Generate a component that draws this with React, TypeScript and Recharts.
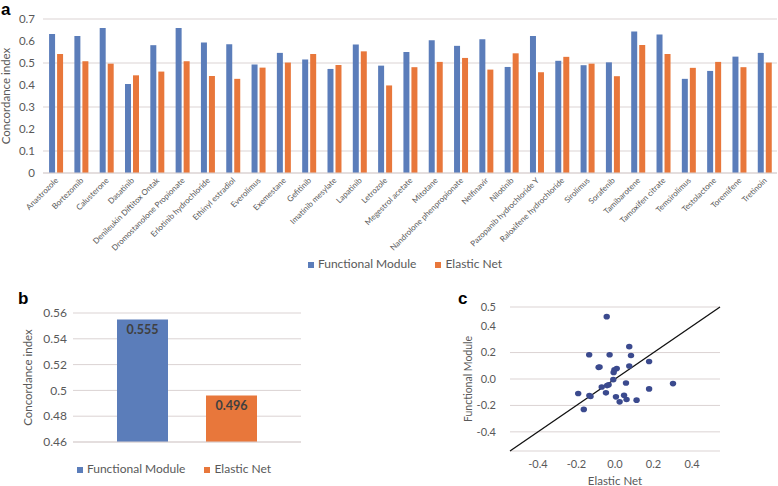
import { BarChart, Bar, XAxis, YAxis, CartesianGrid, Legend, LabelList, ScatterChart, Scatter, ReferenceLine, Label } from 'recharts';

// panel a: per-drug concordance index
const drugs = [
  'Anastrozole', 'Bortezomib', 'Calusterone', 'Dasatinib', 'Denileukin Diftitox Ontak',
  'Dromostanolone Propionate', 'Erlotinib hydrochloride', 'Ethinyl estradiol', 'Everolimus',
  'Exemestane', 'Gefitinib', 'Imatinib mesylate', 'Lapatinib', 'Letrozole', 'Megestrol acetate',
  'Mitotane', 'Nandrolone phenpropionate', 'Nelfinavir', 'Nilotinib', 'Pazopanib hydrochloride Y',
  'Raloxifene hydrochloride', 'Sirolimus', 'Sorafenib', 'Tamibarotene', 'Tamoxifen citrate',
  'Temsirolimus', 'Testolactone', 'Toremifene', 'Tretinoin',
];
const functionalModule = [
  0.632, 0.623, 0.659, 0.404, 0.581, 0.659, 0.593, 0.585, 0.493, 0.546, 0.516, 0.473, 0.584, 0.488,
  0.55, 0.603, 0.578, 0.608, 0.482, 0.623, 0.51, 0.49, 0.503, 0.643, 0.629, 0.428, 0.464, 0.529, 0.546,
];
const elasticNet = [
  0.541, 0.508, 0.497, 0.444, 0.461, 0.508, 0.441, 0.428, 0.479, 0.502, 0.541, 0.491, 0.553, 0.398,
  0.481, 0.505, 0.523, 0.47, 0.544, 0.458, 0.528, 0.497, 0.44, 0.582, 0.541, 0.478, 0.505, 0.481, 0.502,
];
const yTicksA = [0, 0.1, 0.2, 0.3, 0.4, 0.5, 0.6, 0.7];

// panel b: averages
const summaryValues = [0.555, 0.496];
const yTicksB = [0.46, 0.48, 0.5, 0.52, 0.54, 0.56];

// panel c: Elastic Net vs Functional Module
const scatterX = [
  -0.043, 0.074, -0.134, -0.028, 0.083, 0.177, -0.085, 0.009, -0.003, -0.007, 0.074, -0.009, 0.057,
  0.301, -0.069, -0.033, -0.041, 0.177, -0.191, -0.047, -0.133, -0.127, 0.005, 0.047, 0.06, 0.112,
  0.024, -0.162, -0.08,
];
const scatterY = [
  0.472, 0.245, 0.183, 0.183, 0.178, 0.133, 0.088, 0.08, 0.07, 0.05, 0.098, -0.005, -0.03, -0.035,
  -0.06, -0.043, -0.05, -0.075, -0.11, -0.105, -0.125, -0.133, -0.135, -0.123, -0.155, -0.16, -0.173,
  -0.23, 0.09,
];
const xTicksC = [-0.4, -0.2, 0, 0.2, 0.4];
const yTicksC = [-0.545, -0.4, -0.2, 0, 0.2, 0.4, 0.545];

const FONT = 'Lato, "Open Sans", sans-serif';
const BLUE = '#5b7dba';
const ORANGE = '#e8773b';
const GRID = '#dbd3d3';
const TXT = '#595959';

const drugRows = drugs.map((name, i) => ({ name, fm: functionalModule[i], en: elasticNet[i] }));
const summaryRow = [{ name: 'mean', fm: summaryValues[0], en: summaryValues[1] }];
const scatterPts = scatterX.map((x, i) => ({ x, y: scatterY[i] }));

function DrugTick({ x, y, payload }: any) {
  return (
    <g transform={`translate(${x + 3},${y})`}>
      <text textAnchor="end" transform="rotate(-45)" fontSize={8} fill={TXT}>
        {payload.value}
      </text>
    </g>
  );
}

const legendText = (v: string) => <span style={{ color: TXT, marginRight: 9 }}>{v}</span>;
const legendOrder = (item: any) => (item.dataKey === 'fm' ? 0 : 1);

const Dot = (p: any) => <ellipse cx={p.cx} cy={p.cy} rx={3.2} ry={2.8} fill="#3b4a8e" />;

const panelLetter = (left: number, top: number): any => ({
  position: 'absolute', left, top, fontFamily: '"Liberation Sans", Arial, sans-serif',
  fontWeight: 'bold', fontSize: 17, lineHeight: '17px', color: '#000',
});

export default function App() {
  return (
    <div style={{ position: 'absolute', left: 0, top: 0, width: 778, height: 486, background: '#fff', fontFamily: FONT }}>
      <div style={{ position: 'absolute', left: 0, top: 0 }}>
        <BarChart width={778} height={280} data={drugRows} margin={{ top: 19, right: 1, left: 0, bottom: 9 }}
          barCategoryGap="24%" barGap={2}>
          <CartesianGrid vertical={false} stroke={GRID} />
          <XAxis dataKey="name" interval={0} tick={<DrugTick />} tickLine={false} axisLine={{ stroke: GRID }} height={83} />
          <YAxis domain={[0, 0.7]} ticks={yTicksA} width={43} tickLine={false} axisLine={false}
            tick={{ fontSize: 11.5, fill: TXT }} tickFormatter={(v: number) => (v === 0 ? '0' : v.toFixed(1))}>
            <Label value="Concordance index" angle={-90} position="insideLeft" offset={6}
              style={{ textAnchor: 'middle', fontSize: 11.5, fill: TXT }} />
          </YAxis>
          <Legend iconType="square" iconSize={6} formatter={legendText} itemSorter={legendOrder}
            wrapperStyle={{ fontSize: 12, left: 26 }} />
          <Bar dataKey="fm" name="Functional Module" fill={BLUE} isAnimationActive={false} />
          <Bar dataKey="en" name="Elastic Net" fill={ORANGE} isAnimationActive={false} />
        </BarChart>
      </div>
      <div style={panelLetter(1, 1)}>a</div>

      <div style={{ position: 'absolute', left: 0, top: 280 }}>
        <BarChart width={350} height={206} data={summaryRow} margin={{ top: 33, right: 49, left: 0, bottom: 10 }}
          barSize={51} barGap={38}>
          <CartesianGrid vertical={false} stroke={GRID} />
          <XAxis dataKey="name" tick={false} tickLine={false} axisLine={{ stroke: GRID }} height={19} />
          <YAxis domain={[0.46, 0.56]} ticks={yTicksB} width={73} tickLine={false} axisLine={false} tickMargin={0}
            tick={{ fontSize: 12, fill: TXT }} tickFormatter={(v: number) => String(+v.toFixed(2))}>
            <Label value="Concordance index" angle={-90} position="insideLeft" offset={28}
              style={{ textAnchor: 'middle', fontSize: 11.5, fill: TXT }} />
          </YAxis>
          <Legend iconType="square" iconSize={6} formatter={legendText} itemSorter={legendOrder}
            wrapperStyle={{ fontSize: 12, left: 33 }} />
          <Bar dataKey="fm" name="Functional Module" fill={BLUE} isAnimationActive={false}>
            <LabelList dataKey="fm" position="insideTop" offset={6} fill="#404040" fontSize={12.5} fontWeight="bold"
              formatter={(v: number) => v.toFixed(3)} />
          </Bar>
          <Bar dataKey="en" name="Elastic Net" fill={ORANGE} isAnimationActive={false}>
            <LabelList dataKey="en" position="insideTop" offset={6} fill="#404040" fontSize={12.5} fontWeight="bold"
              formatter={(v: number) => v.toFixed(3)} />
          </Bar>
        </BarChart>
      </div>
      <div style={panelLetter(18, 290)}>b</div>

      <div style={{ position: 'absolute', left: 440, top: 290 }}>
        <ScatterChart width={290} height={196} margin={{ top: 17, right: 10, left: 0, bottom: 0 }}>
          <CartesianGrid vertical={false} stroke={GRID} />
          <XAxis type="number" dataKey="x" domain={[-0.545, 0.545]} ticks={xTicksC} axisLine={false} tickLine={false}
            height={35} tickMargin={3} tick={{ fontSize: 11, fill: TXT }} tickFormatter={(v: number) => v.toFixed(1)}>
            <Label value="Elastic Net" position="insideBottom" offset={1} style={{ fontSize: 11.5, fill: TXT }} />
          </XAxis>
          <YAxis type="number" dataKey="y" domain={[-0.545, 0.545]} ticks={yTicksC} width={70} axisLine={false}
            tickLine={false} tickMargin={8} tick={{ fontSize: 11, fill: TXT }}
            tickFormatter={(v: number) => (v === 0.545 ? '0.5' : v === -0.545 ? '' : v.toFixed(1))}>
            <Label value="Functional Module" angle={-90} position="insideLeft" offset={28}
              style={{ textAnchor: 'middle', fontSize: 10.5, fill: TXT }} />
          </YAxis>
          <ReferenceLine segment={[{ x: -0.545, y: -0.545 }, { x: 0.545, y: 0.545 }]} stroke="#111" strokeWidth={1.3} />
          <Scatter data={scatterPts} shape={<Dot />} isAnimationActive={false} />
        </ScatterChart>
      </div>
      <div style={panelLetter(458, 290)}>c</div>
    </div>
  );
}
